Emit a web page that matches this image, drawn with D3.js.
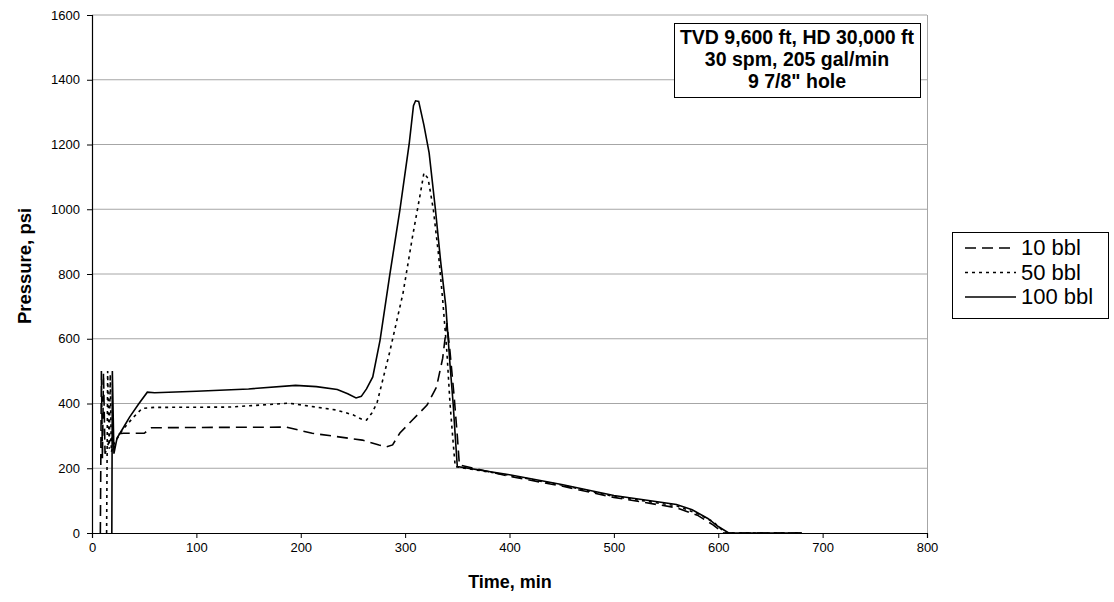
<!DOCTYPE html>
<html>
<head>
<meta charset="utf-8">
<script src="https://cdn.jsdelivr.net/npm/d3@7"></script>
<style>
  body { margin: 0; background: #fff; }
  svg { font-family: Arial, "Liberation Sans", sans-serif; }
</style>
</head>
<body>
<svg id="chart" width="1114" height="602"></svg>
<script>
// series values: [time min, pressure psi]
const bbl10 = [[8,0],[9,500],[10,230],[11,495],[12.5,245],[16,280],[22,305],[30,308],[50,308],[57,325],[100,326],[186,327],
  [211,308],[259,287],[275,272],[282,266],[288,272],[295,309],[307,349],[321,395],[330,450],[336,540],[340,648],[343,560],
  [347,420],[350,300],[352,210],[400,175],[450,145],[500,110],[560,78],[580,55],[595,25],[605,0],[680,0]];
const bbl50 = [[14,0],[15,500],[16.5,260],[17.5,490],[18.5,250],[21,275],[29,318],[39,355],[48,385],[60,388],[132,389],
  [189,401],[234,380],[250,365],[258,352],[263,349],[268,370],[273,401],[285,556],[298,741],[307,914],[314,1038],
  [318,1112],[322,1095],[327,1000],[332,860],[336,720],[340,560],[343,400],[346,280],[348,205],[400,178],[450,148],
  [500,113],[560,84],[580,60],[595,35],[607,0],[680,0]];
const bbl100 = [[19,0],[19.5,500],[21,245],[24,293],[30,325],[36,358],[45,400],[53,435],[60,433],[100,438],[150,445],
  [195,456],[215,452],[235,443],[245,430],[253,417],[258,422],[263,445],[269,482],[276,596],[285,791],[295,998],
  [304,1205],[308,1320],[310,1335],[313,1333],[318,1260],[323,1174],[329,1000],[334,840],[339,700],[343,520],
  [346,400],[348,300],[350,205],[400,180],[450,150],[500,116],[560,88],[575,72],[590,45],[600,20],[610,0],[680,0]];

const seriesNames = ["10 bbl", "50 bbl", "100 bbl"];
const dashes = ["11,6", "3,4", null];
const xTicks = [0, 100, 200, 300, 400, 500, 600, 700, 800];
const yTicks = [0, 200, 400, 600, 800, 1000, 1200, 1400, 1600];
const noteLines = ["TVD 9,600 ft, HD 30,000 ft", "30 spm, 205 gal/min", "9 7/8\" hole"];

const svg = d3.select("#chart");
const plotL = 92, plotT = 15, plotR = 927, plotB = 533;

const x = d3.scaleLinear().domain([0, 800]).range([plotL, plotR]);
const y = d3.scaleLinear().domain([0, 1600]).range([plotB, plotT]);

// gridlines
svg.append("g")
  .selectAll("line")
  .data(yTicks.slice(1))
  .enter().append("line")
  .attr("x1", plotL).attr("x2", plotR)
  .attr("y1", d => y(d)).attr("y2", d => y(d))
  .attr("stroke", "#a6a6a6").attr("stroke-width", 1);

// right border of plot area
svg.append("line")
  .attr("x1", plotR + 0.5).attr("x2", plotR + 0.5)
  .attr("y1", plotT).attr("y2", plotB)
  .attr("stroke", "#a6a6a6");

// axes
const fmt = d3.format("d");
const xAxis = svg.append("g")
  .attr("transform", `translate(0,${plotB})`)
  .call(d3.axisBottom(x).tickValues(xTicks).tickFormat(fmt).tickSize(5).tickPadding(5));
const yAxis = svg.append("g")
  .attr("transform", `translate(${plotL},0)`)
  .call(d3.axisLeft(y).tickValues(yTicks).tickFormat(fmt).tickSize(5).tickPadding(7));
[xAxis, yAxis].forEach(a => {
  a.selectAll("text").attr("font-size", 13).attr("fill", "#000")
    .attr("font-family", "Arial, 'Liberation Sans', sans-serif");
  a.selectAll("line").attr("stroke", "#000");
  a.select(".domain").attr("stroke", "#000").attr("stroke-width", 1.2);
});

// lines
const line = d3.line().x(d => x(d[0])).y(d => y(d[1]));
[bbl10, bbl50, bbl100].forEach((s, i) => {
  svg.append("path")
    .datum(s)
    .attr("d", line)
    .attr("fill", "none")
    .attr("stroke", "#000")
    .attr("stroke-width", 1.6)
    .attr("stroke-dasharray", dashes[i]);
});

// axis titles
svg.append("text")
  .attr("x", 510).attr("y", 588)
  .attr("text-anchor", "middle")
  .attr("font-size", 18).attr("font-weight", "bold")
  .text("Time, min");
svg.append("text")
  .attr("transform", `translate(31,266) rotate(-90)`)
  .attr("text-anchor", "middle")
  .attr("font-size", 18.5).attr("font-weight", "bold")
  .text("Pressure, psi");

// annotation box
svg.append("rect")
  .attr("x", 674.5).attr("y", 23.5).attr("width", 246).attr("height", 74)
  .attr("fill", "#fff").attr("stroke", "#000");
svg.append("g").selectAll("text")
  .data(noteLines)
  .enter().append("text")
  .attr("x", 797).attr("y", (d, i) => 44 + i * 22)
  .attr("text-anchor", "middle")
  .attr("font-size", 19.5).attr("font-weight", "bold")
  .text(d => d);

// legend
const lg = svg.append("g");
lg.append("rect")
  .attr("x", 952.5).attr("y", 232.5).attr("width", 156).attr("height", 86)
  .attr("fill", "#fff").attr("stroke", "#000");
seriesNames.forEach((name, i) => {
  const ly = 255 + i * 24.5;
  lg.append("line")
    .attr("x1", 965).attr("x2", 1016)
    .attr("y1", ly - 7).attr("y2", ly - 7)
    .attr("stroke", "#000").attr("stroke-width", 1.6)
    .attr("stroke-dasharray", dashes[i]);
  lg.append("text")
    .attr("x", 1021).attr("y", ly)
    .attr("font-size", 22)
    .text(name);
});
</script>
</body>
</html>
